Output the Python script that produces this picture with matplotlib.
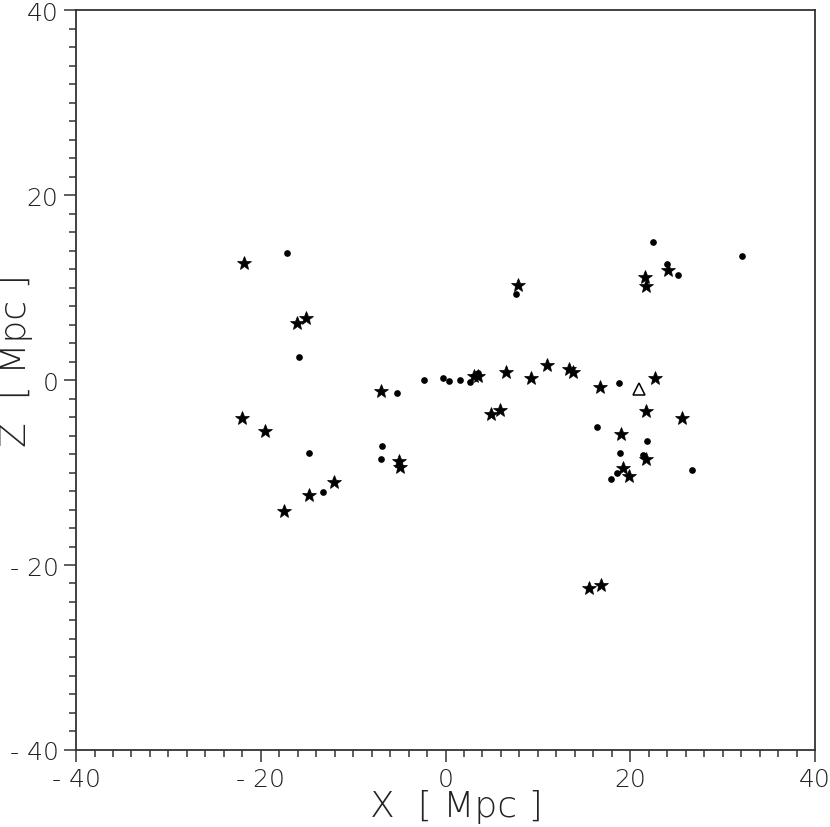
import matplotlib
matplotlib.use("Agg")
import matplotlib.pyplot as plt
from matplotlib.ticker import MultipleLocator

# galaxies shown as stars
star_x = [-21.77, -16.04, -15.13, -6.95, -21.99, -19.53, -5.00, -4.89, -12.03, -14.77,
          -17.45, 7.88, 3.12, 3.52, 6.52, 9.29, 10.98, 13.37, 13.83, 4.89,
          5.90, 24.11, 21.59, 21.70, 22.67, 16.72, 21.67, 25.60, 18.96, 21.70,
          19.24, 19.83, 15.56, 16.83]
star_z = [12.65, 6.16, 6.74, -1.22, -4.11, -5.51, -8.79, -9.44, -11.03, -12.43,
          -14.16, 10.27, 0.40, 0.46, 0.90, 0.22, 1.62, 1.22, 0.90, -3.68,
          -3.24, 11.92, 11.17, 10.19, 0.22, -0.79, -3.32, -4.14, -5.84, -8.54,
          -9.55, -10.35, -22.52, -22.13]

# galaxies shown as dots
dot_x = [-17.15, -15.89, -5.28, -6.84, -14.81, -6.95, -13.23, 7.60, -2.29, -0.27,
         0.35, 1.57, 2.65, 3.52, 22.46, 32.12, 23.94, 25.20, 18.78, 16.43,
         21.77, 18.85, 21.34, 26.71, 18.56, 17.94]
dot_z = [13.70, 2.45, -1.37, -7.14, -7.86, -8.54, -12.08, 9.26, 0.03, 0.22,
         -0.11, 0.03, -0.18, 0.76, 14.95, 13.41, 12.54, 11.38, -0.29, -5.05,
         -6.56, -7.92, -8.08, -9.70, -10.05, -10.67]

# open triangle
tri_x = [20.91]
tri_z = [-0.97]

ticks = [-40, -20, 0, 20, 40]
tick_labels = ['- 40', '- 20', '0', '20', '40']

fig = plt.figure(figsize=(8.3, 8.28), dpi=100)
ax = fig.add_axes([0.0916, 0.093, 0.8904, 0.8937])

ax.plot(star_x, star_z, '*', color='black', markersize=10, markeredgewidth=0.5, linestyle='none')
ax.plot(dot_x, dot_z, 'o', color='black', markersize=3.8, linestyle='none')
ax.plot(tri_x, tri_z, '^', markerfacecolor='none', markeredgecolor='black',
        markersize=8, markeredgewidth=1.1, linestyle='none')

ax.set_xlim(-40, 40)
ax.set_ylim(-40, 40)
ax.set_xticks(ticks)
ax.set_xticklabels(tick_labels)
ax.set_yticks(ticks)
ax.set_yticklabels(tick_labels)
ax.xaxis.set_minor_locator(MultipleLocator(2))
ax.yaxis.set_minor_locator(MultipleLocator(2))

for s in ax.spines.values():
    s.set_linewidth(1.3)
    s.set_color('#333333')

ax.tick_params(which='major', direction='out', length=8.6, width=1.1, color='#333333',
               labelsize=18, pad=4, labelcolor='#222222')
ax.tick_params(which='minor', direction='out', length=5, width=1.1, color='#333333')
for lab in ax.get_xticklabels() + ax.get_yticklabels():
    lab.set_fontweight('light')

ax.set_xlabel('X  [ Mpc ]', fontsize=26, color='#222222', fontweight='light')
ax.set_ylabel('Z  [ Mpc ]', fontsize=26, color='#222222', fontweight='light')
ax.xaxis.set_label_coords(0.514, -0.076)
ax.xaxis.label.set_va('center')
ax.yaxis.set_label_coords(-0.0815, 0.528)
ax.yaxis.label.set_va('center')

fig.savefig('out.png', dpi=100)
